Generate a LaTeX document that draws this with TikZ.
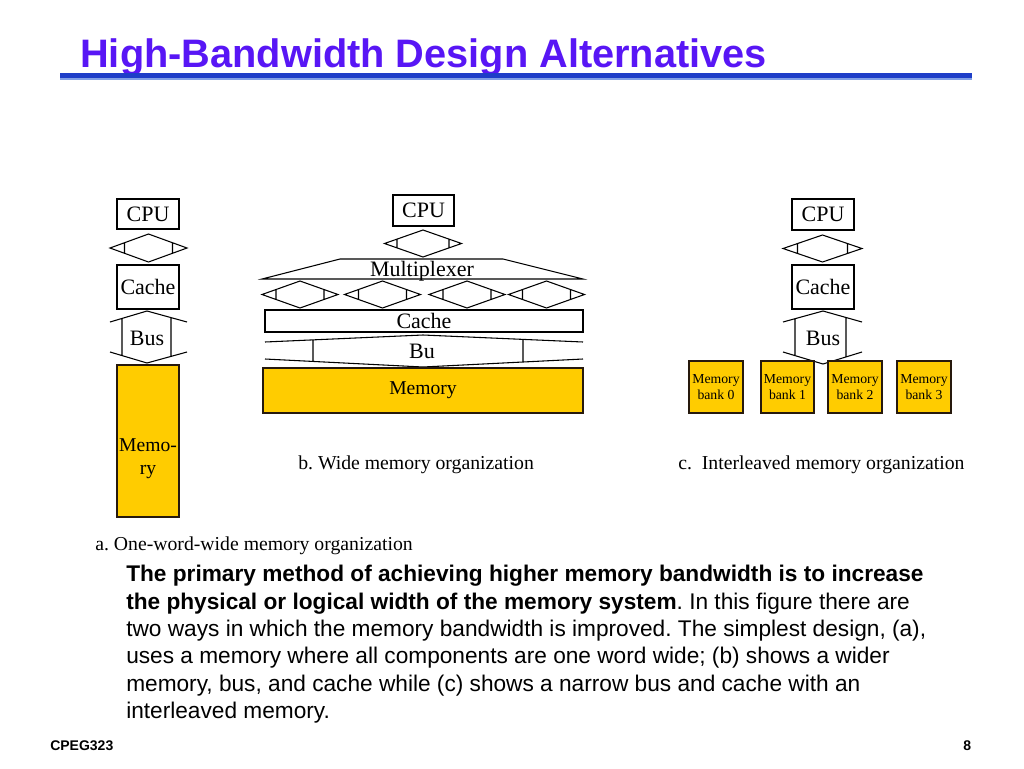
\documentclass[tikz,border=0pt]{standalone}
\usepackage{fontspec}
\setmainfont{Liberation Sans}
\newfontfamily\serifdia{Liberation Serif}
\usetikzlibrary{fit}
\frenchspacing
\definecolor{titlec}{RGB}{88,22,245}
\definecolor{barc}{RGB}{30,62,200}
\definecolor{barl}{RGB}{130,160,230}
\definecolor{memc}{RGB}{255,204,0}
\newcommand\busdia[5]{%
  \draw[busline] ({#1-#3},#2) -- (#1,{#2-#4}) -- ({#1+#3},#2) -- (#1,{#2+#4}) -- cycle
    ({#1-#5},{#2-#4*(1-#5/#3)}) -- ({#1-#5},{#2+#4*(1-#5/#3)})
    ({#1+#5},{#2-#4*(1-#5/#3)}) -- ({#1+#5},{#2+#4*(1-#5/#3)});}
\begin{document}
\begin{tikzpicture}[x=0.75pt,y=-0.75pt,
  box/.style={draw, line width=0.8pt, inner sep=0pt, fill=white},
  membox/.style={draw=black!80!brown, line width=0.8pt, inner sep=0pt, fill=memc},
  busline/.style={line width=0.8pt, line join=miter},
  dtext/.style={font=\serifdia\fontsize{16.5}{18}\selectfont, inner sep=0pt},
  mtext/.style={font=\serifdia\fontsize{14.7}{17}\selectfont, inner sep=0pt, align=center},
  btext/.style={font=\serifdia\fontsize{10.3}{12}\selectfont, inner sep=0pt, align=center},
  ctext/.style={font=\serifdia\fontsize{14.8}{17}\selectfont, inner sep=0pt, anchor=base west}]
\useasboundingbox[fill=white] (0,0) rectangle (1024,768);

% title
\node[anchor=base west, inner sep=0pt, text=titlec, font=\bfseries\fontsize{29.8}{34}\selectfont] (title) at (80,67) {High-Bandwidth Design Alternatives};
\fill[barc] (60,73) rectangle (972,77.5);
\draw[barl, line width=1.2pt] (60,79) -- (972,79);

% ---------- (a)
\node[box, fit={(117,199)(179,229)}] (acpu) {};
\node[dtext] (acput) at (acpu.center) {CPU};
\busdia{148.5}{248}{38.5}{14}{24}
\node[box, fit={(117,265)(179,309)}] (acache) {};
\node[dtext] (acachet) at (acache.center) {Cache};
\draw[busline] (110,322) -- (147,311) -- (187,322)
  (110,352) -- (147,363) -- (187,352)
  (122,318.4) -- (122,355.6) (171,317.6) -- (171,356.4);
\node[dtext] (abus) at (147,338) {Bus};
\node[membox, fit={(117,365)(179,517)}] (amem) {};
\node[mtext] (amemt) at (148,459) {Memo-\\ry};
\node[ctext] (acap) at (95,550) {a. One-word-wide memory organization};

% ---------- (b)
\node[box, fit={(393,195)(454,226)}] (bcpu) {};
\node[dtext] (bcput) at (bcpu.center) {CPU};
\busdia{423}{243.5}{38.5}{13.5}{26}
\draw[busline] (262,279) -- (340,259) -- (503,259) -- (583,279) -- cycle;
\node[dtext] (bmux) at (422,271) {Multiplexer};
\busdia{300}{294.5}{38}{13.5}{24}
\busdia{382.5}{294.5}{38}{13.5}{24}
\busdia{467}{294.5}{38}{13.5}{24}
\busdia{546.5}{294.5}{38}{13.5}{24}
\node[box, fit={(265,310)(583,332)}] (bcache) {};
\node[dtext] (bcachet) at (424,321) {Cache};
\draw[busline] (265,342) -- (423,335) -- (583,342)
  (265,359) -- (423,367) -- (583,359)
  (313,339.9) -- (313,361.4) (523,339.4) -- (523,362);
\node[dtext] (bbus) at (422,351) {Bu};
\node[membox, fit={(263,368)(583,413)}] (bmem) {};
\node[mtext] (bmemt) at (bmem.center) {Memory};
\node[ctext] (bcap) at (298,469) {b. Wide memory organization};

% ---------- (c)
\node[box, fit={(792,199)(854,230)}] (ccpu) {};
\node[dtext] (ccput) at (ccpu.center) {CPU};
\busdia{822.5}{248.5}{39.5}{13.5}{25}
\node[box, fit={(792,265)(854,309)}] (ccache) {};
\node[dtext] (ccachet) at (ccache.center) {Cache};
\draw[busline] (783,322) -- (823,311) -- (862,322)
  (783,352) -- (823,364) -- (862,352)
  (795,318.7) -- (795,355.6) (846,317.5) -- (846,356.9);
\node[dtext] (cbus) at (823,338) {Bus};
\node[membox, fit={(689,361)(743,413)}] (cb0) {};
\node[btext] at (cb0.center) {Memory\\bank 0};
\node[membox, fit={(761,361)(814,413)}] (cb1) {};
\node[btext] at (cb1.center) {Memory\\bank 1};
\node[membox, fit={(828,361)(882,413)}] (cb2) {};
\node[btext] at (cb2.center) {Memory\\bank 2};
\node[membox, fit={(897,361)(951,413)}] (cb3) {};
\node[btext] at (cb3.center) {Memory\\bank 3};
\node[ctext] (ccap) at (678,469) {c.\ \ Interleaved memory organization};

% ---------- body text
\node[anchor=north west, inner sep=0pt, align=left, font=\fontsize{17}{20.5}\selectfont] (body) at (126,565) {%
\textbf{The primary method of achieving higher memory bandwidth is to increase}\\
\textbf{the physical or logical width of the memory system}. In this figure there are\\
two ways in which the memory bandwidth is improved. The simplest design, (a),\\
uses a memory where all components are one word wide; (b) shows a wider\\
memory, bus, and cache while (c) shows a narrow bus and cache with an\\
interleaved memory.};

% footer
\node[anchor=base west, inner sep=0pt, font=\bfseries\fontsize{10.5}{12}\selectfont] (foot) at (50,750) {CPEG323};
\node[anchor=base west, inner sep=0pt, font=\bfseries\fontsize{10.5}{12}\selectfont] (page) at (963,750) {8};
\end{tikzpicture}
\end{document}
